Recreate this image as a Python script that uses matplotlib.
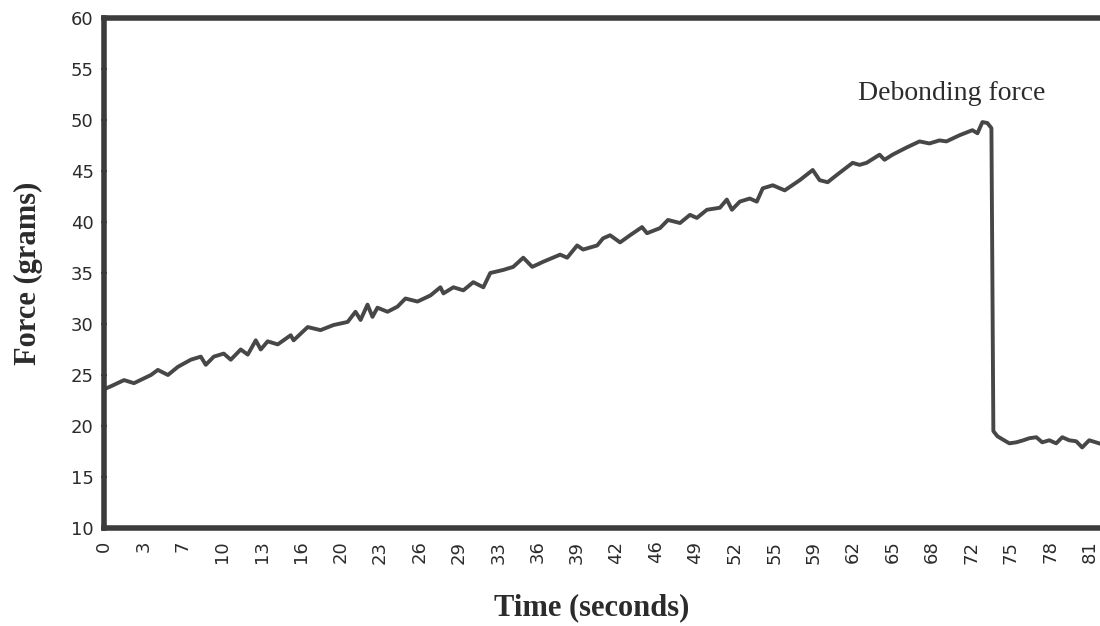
import matplotlib
matplotlib.use("Agg")
import matplotlib.pyplot as plt

# Data
time_s = [0.0, 0.58, 1.65, 2.47, 3.87, 4.44, 5.27, 6.09, 7.16, 7.98, 8.39, 9.05,
          9.87, 10.45, 11.27, 11.85, 12.51, 12.92, 13.49, 14.32, 15.39, 15.63,
          16.79, 17.85, 18.92, 20.08, 20.73, 21.15, 21.72, 22.13, 22.54, 23.37,
          24.19, 24.85, 25.84, 26.91, 27.73, 27.98, 28.80, 29.62, 30.44, 31.27,
          31.84, 32.91, 33.73, 34.56, 35.30, 36.20, 37.60, 38.18, 39.00, 39.49,
          40.65, 41.14, 41.72, 42.54, 43.36, 44.35, 44.76, 45.83, 46.49, 47.48,
          48.30, 48.87, 49.70, 50.77, 51.34, 51.76, 52.41, 53.23, 53.81, 54.30,
          55.13, 56.11, 57.35, 58.42, 58.99, 59.65, 60.39, 61.71, 62.28, 62.86,
          63.93, 64.34, 65.00, 66.15, 67.22, 68.04, 68.87, 69.44, 70.51, 71.58,
          72.00, 72.41, 72.82, 73.15, 73.31, 73.64, 74.05, 74.63, 75.20, 75.78,
          76.27, 76.85, 77.34, 77.92, 78.49, 78.99, 79.56, 80.14, 80.63, 81.21,
          82.03]
force_g = [23.6, 23.9, 24.5, 24.2, 25.0, 25.5, 25.0, 25.8, 26.5, 26.8, 26.0, 26.8,
           27.1, 26.5, 27.5, 27.0, 28.4, 27.5, 28.3, 28.0, 28.9, 28.4,
           29.7, 29.4, 29.9, 30.2, 31.2, 30.4, 31.9, 30.7, 31.6, 31.2,
           31.7, 32.5, 32.2, 32.8, 33.6, 33.0, 33.6, 33.3, 34.1, 33.6,
           35.0, 35.3, 35.6, 36.5, 35.6, 36.1, 36.8, 36.5, 37.7, 37.3,
           37.7, 38.4, 38.7, 38.0, 38.7, 39.5, 38.9, 39.4, 40.2, 39.9,
           40.7, 40.4, 41.2, 41.4, 42.2, 41.2, 42.0, 42.3, 42.0, 43.3,
           43.6, 43.1, 44.1, 45.1, 44.1, 43.9, 44.6, 45.8, 45.6, 45.8,
           46.6, 46.1, 46.6, 47.3, 47.9, 47.7, 48.0, 47.9, 48.5, 49.0,
           48.7, 49.8, 49.7, 49.2, 19.5, 19.0, 18.7, 18.3, 18.4, 18.6,
           18.8, 18.9, 18.4, 18.6, 18.3, 18.9, 18.6, 18.5, 17.9, 18.6,
           18.3]

x_tick_labels = ["0", "3", "7", "10", "13", "16", "20", "23", "26", "29", "33",
                 "36", "39", "42", "46", "49", "52", "55", "59", "62", "65",
                 "68", "72", "75", "78", "81"]
tick_step = 3.25
y_ticks = [10, 15, 20, 25, 30, 35, 40, 45, 50, 55, 60]

dark = "#3c3c3c"
text_col = "#2b2b2b"

fig = plt.figure(figsize=(11, 6.26), dpi=100)
ax = fig.add_axes([104 / 1100, 1 - 528 / 626, 1 - 104 / 1100, (528 - 18) / 626])

ax.plot(time_s, force_g, color="#474747", lw=2.8, solid_joinstyle="round")

ax.set_xlim(0, 82.1)
ax.set_ylim(10, 60)
ax.set_yticks(y_ticks)
ax.set_yticklabels([str(v) for v in y_ticks], fontsize=13, color=text_col,
                   family="DejaVu Sans")
ax.set_xticks([i * tick_step for i in range(len(x_tick_labels))])
ax.set_xticklabels(x_tick_labels, rotation=90, fontsize=13, color=text_col,
                   family="DejaVu Sans")
ax.tick_params(axis="x", length=0, pad=9)
ax.tick_params(axis="y", length=5, width=1.5, direction="inout", color=dark, pad=5)

for side in ("left", "bottom", "top"):
    ax.spines[side].set_linewidth(4)
    ax.spines[side].set_color(dark)
ax.spines["right"].set_visible(False)

ax.set_xlabel("Time (seconds)", fontsize=22, fontweight="bold",
              family="Liberation Serif", color=text_col)
ax.xaxis.set_label_coords(0.49, -0.128)
ax.set_ylabel("Force (grams)", fontsize=22, fontweight="bold",
              family="Liberation Serif", color=text_col, labelpad=20)

ax.text(69.9, 52.6, "Debonding force", ha="center", va="center",
        fontsize=20, family="Liberation Serif", color=text_col)

fig.savefig("out.png", dpi=100)
